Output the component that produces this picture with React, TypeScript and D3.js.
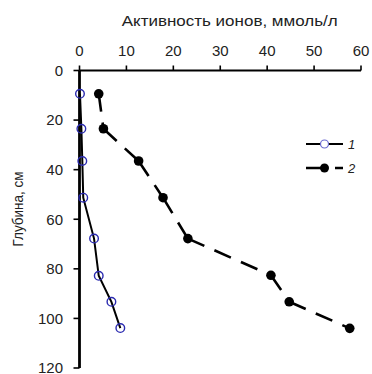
import React from "react";
import * as d3 from "d3";

const depth1 = [9.4, 23.5, 36.5, 51.3, 67.8, 82.8, 93.3, 103.9];
const activity1 = [0.1, 0.4, 0.6, 0.8, 3.1, 4.1, 6.8, 8.7];
const depth2 = [9.4, 23.5, 36.5, 51.3, 67.8, 82.6, 93.3, 104.0];
const activity2 = [4.1, 5.1, 12.6, 17.8, 23.1, 40.8, 44.7, 57.6];
const xTicks = [0, 10, 20, 30, 40, 50, 60];
const yTicks = [0, 20, 40, 60, 80, 100, 120];
const legendLabels = ["1", "2"];
const xTitle = "Активность ионов, ммоль/л";
const yTitle = "Глубина, см";

export default function App() {
  const W = 372, H = 374;
  const x = d3.scaleLinear().domain([0, 60]).range([79.5, 361]);
  const y = d3.scaleLinear().domain([0, 120]).range([70.5, 368]);
  const pts1 = depth1.map((d, i) => [activity1[i], d] as [number, number]);
  const pts2 = depth2.map((d, i) => [activity2[i], d] as [number, number]);
  const line = d3.line<[number, number]>().x(p => x(p[0])).y(p => y(p[1]));
  const segs2 = pts2.slice(1).map((p, i) => [pts2[i], p] as [number, number][]);
  const font = "'Liberation Sans', Arial, sans-serif";
  const txt = "#222";
  const fs = 15;
  return (
    <svg width={W} height={H} style={{ position: "absolute", left: 0, top: 0 }}>
      <rect width={W} height={H} fill="#fff" />
      <text x={229.7} y={25.7} fontSize={15.5} fontFamily={font} fill={txt} textAnchor="middle"
        textLength={216} lengthAdjust="spacingAndGlyphs">{xTitle}</text>
      <text transform={`translate(23.3,209) rotate(-90)`} fontSize={15.5} fontFamily={font} fill={txt} textAnchor="middle"
        textLength={75} lengthAdjust="spacingAndGlyphs">{yTitle}</text>
      {/* x axis */}
      <line x1={x(0)} x2={x(60)} y1={y(0)} y2={y(0)} stroke="#000" strokeWidth={2.2} />
      {xTicks.map(t => (
        <g key={"x" + t}>
          <line x1={x(t)} x2={x(t)} y1={y(0)} y2={y(0) - 5} stroke="#000" strokeWidth={1.6} />
          <text x={x(t)} y={56} fontSize={fs} fontFamily={font} fill={txt} textAnchor="middle">{t}</text>
        </g>
      ))}
      {/* y axis */}
      <line x1={x(0)} x2={x(0)} y1={y(0)} y2={y(120)} stroke="#000" strokeWidth={2.8} />
      {yTicks.map(t => (
        <g key={"y" + t}>
          <line x1={x(0) - 6} x2={x(0)} y1={y(t)} y2={y(t)} stroke="#000" strokeWidth={1.6} />
          <text x={63} y={y(t) + 5.4} fontSize={fs} fontFamily={font} fill={txt} textAnchor="end">{t}</text>
        </g>
      ))}
      {/* series 1 */}
      <path d={line(pts1) || ""} fill="none" stroke="#000" strokeWidth={2} />
      {pts1.map((p, i) => (
        <circle key={"a" + i} cx={x(p[0])} cy={y(p[1])} r={4.3} fill="none" stroke="#2b2bb0" strokeWidth={1.4} />
      ))}
      {/* series 2: dash pattern restarts on each segment */}
      {segs2.map((s, i) => (
        <path key={"s" + i} d={line(s) || ""} fill="none" stroke="#000" strokeWidth={2.6} strokeDasharray="18,11" />
      ))}
      {pts2.map((p, i) => (
        <circle key={"b" + i} cx={x(p[0])} cy={y(p[1])} r={4.8} fill="#000" />
      ))}
      {/* legend */}
      <g>
        <line x1={306} x2={343} y1={144} y2={144} stroke="#000" strokeWidth={2} />
        <circle cx={324.5} cy={144} r={4} fill="#fff" stroke="#6a6ad0" strokeWidth={1.2} />
        <text x={348} y={148.5} fontSize={13} fontFamily={font} fontStyle="italic" fill={txt}>{legendLabels[0]}</text>
        <line x1={306} x2={343} y1={168} y2={168} stroke="#000" strokeWidth={2.6} strokeDasharray="18,11" />
        <circle cx={324.5} cy={168} r={4.5} fill="#000" />
        <text x={348} y={172.5} fontSize={13} fontFamily={font} fontStyle="italic" fill={txt}>{legendLabels[1]}</text>
      </g>
    </svg>
  );
}
